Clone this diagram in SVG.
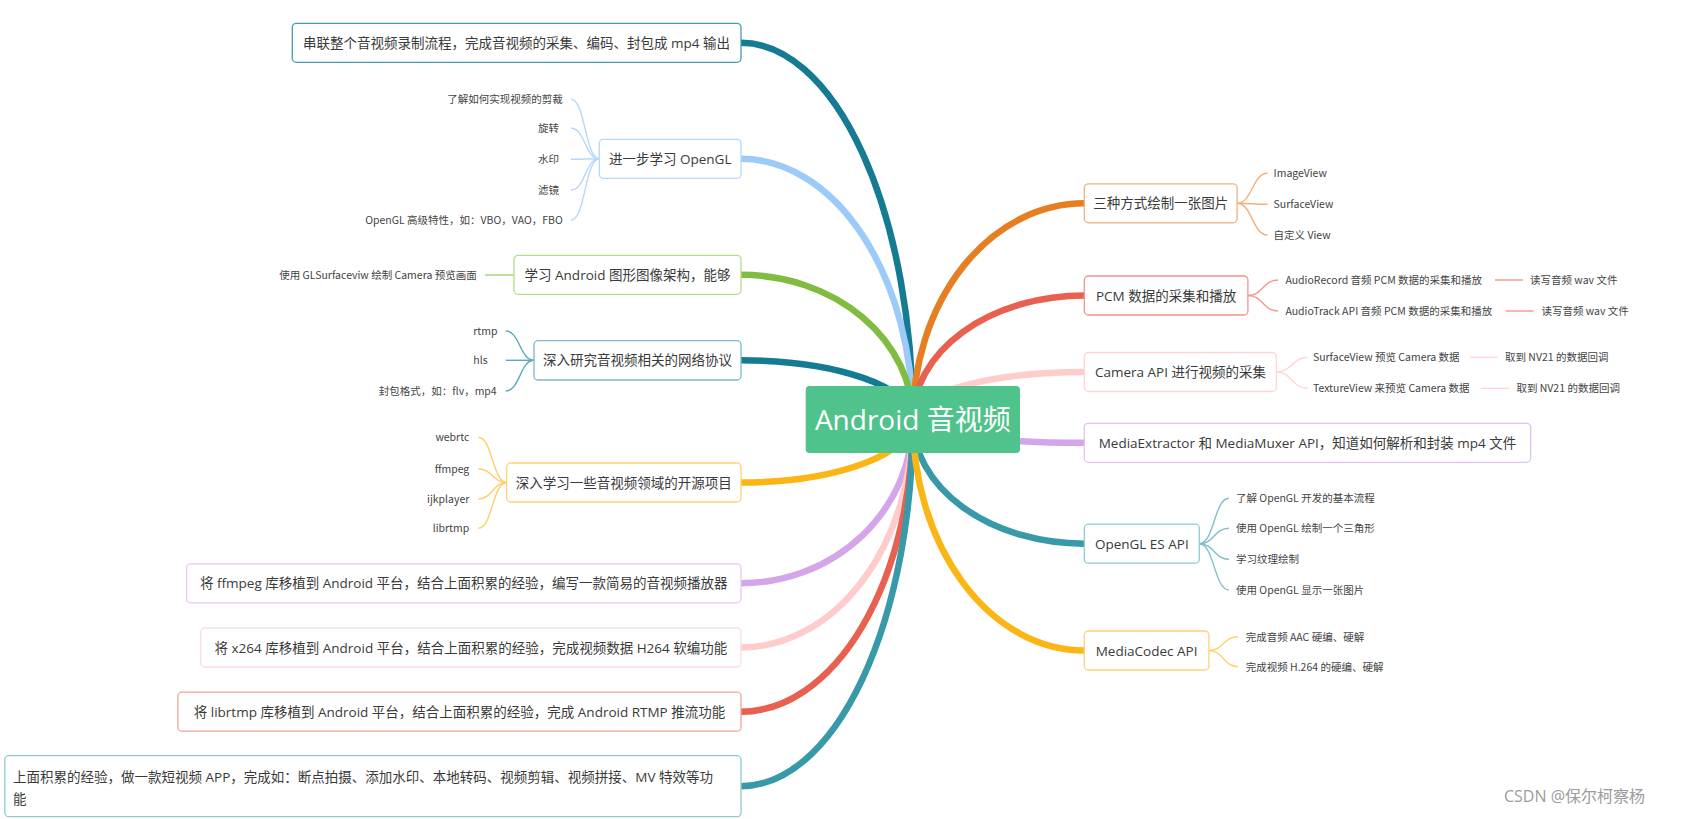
<svg xmlns="http://www.w3.org/2000/svg" width="1687" height="819" viewBox="0 0 1687 819">
<style>
.main{fill:none;stroke-width:6.5;stroke-linecap:butt}
.sub{fill:none;stroke-width:1.4}
.box{fill:#fff;stroke-width:1.3}
.bt{font-family:"Open Sans","Noto Sans CJK SC",sans-serif;font-size:13.5px;fill:#3a3a3a}
.bs{font-family:"Open Sans","Noto Sans CJK SC",sans-serif;font-size:13.5px;fill:#3a3a3a;text-anchor:middle}
.ct{font-family:"Noto Sans CJK SC",sans-serif;font-size:10.5px;fill:#444}
.ce{font-family:"Noto Sans CJK SC",sans-serif;font-size:10.5px;fill:#444;text-anchor:end}
</style>
<rect width="1687" height="819" fill="#fff"/>
<g id="connectors">
<path class="main" stroke="#157b93" d="M912.8 419.5 A171.8 376.7 0 0 0 741 42.8"/>
<path class="main" stroke="#9ccbf9" d="M912.8 419.5 A171.8 260.7 0 0 0 741 158.8"/>
<path class="main" stroke="#80bc40" d="M912.8 419.5 A171.8 144.7 0 0 0 741 274.8"/>
<path class="main" stroke="#157b93" d="M912.8 419.5 A171.8 59.2 0 0 0 741 360.3"/>
<path class="main" stroke="#fbb615" d="M912.8 419.5 A171.8 63 0 0 1 741 482.5"/>
<path class="main" stroke="#d4a6e9" d="M912.8 419.5 A171.8 163.8 0 0 1 741 583.3"/>
<path class="main" stroke="#ffcccc" d="M912.8 419.5 A171.8 228 0 0 1 741 647.5"/>
<path class="main" stroke="#e8604f" d="M912.8 419.5 A171.8 292.2 0 0 1 741 711.7"/>
<path class="main" stroke="#389aa8" d="M912.8 419.5 A171.8 366.7 0 0 1 741 786.2"/>
<path class="main" stroke="#e67e22" d="M912.8 419.5 A171.5 216.2 0 0 1 1084.3 203.3"/>
<path class="main" stroke="#e8604f" d="M912.8 419.5 A171.5 124 0 0 1 1084.3 295.5"/>
<path class="main" stroke="#ffcccc" d="M912.8 419.5 A171.5 47.5 0 0 1 1084.3 372"/>
<path class="main" stroke="#d4a6e9" d="M912.8 419.5 A171.5 23.3 0 0 0 1084.3 442.8"/>
<path class="main" stroke="#389aa8" d="M912.8 419.5 A171.5 124.2 0 0 0 1084.3 543.7"/>
<path class="main" stroke="#fbb615" d="M912.8 419.5 A171.5 231 0 0 0 1084.3 650.5"/>
<g stroke="#b7d8fb">
<path class="sub" d="M599.3 158.8 C585.2 158.8 585.2 99.3 571 99.3"/>
<path class="sub" d="M599.3 158.8 C585.2 158.8 585.2 128.3 571 128.3"/>
<path class="sub" d="M599.3 158.8 C585.2 158.8 585.2 159.3 571 159.3"/>
<path class="sub" d="M599.3 158.8 C585.2 158.8 585.2 190 571 190"/>
<path class="sub" d="M599.3 158.8 C585.2 158.8 585.2 220 571 220"/>
</g>
<path class="sub" stroke="#a3d16c" d="M514 275 L485 275"/>
<g stroke="#5fa8ba">
<path class="sub" d="M534 360.3 C519.9 360.3 519.9 331 505.7 331"/>
<path class="sub" d="M534 360.3 C519.9 360.3 519.9 360.3 505.7 360.3"/>
<path class="sub" d="M534 360.3 C519.9 360.3 519.9 391 505.7 391"/>
</g>
<g stroke="#fdd06a">
<path class="sub" d="M506.7 482.5 C492.5 482.5 492.5 437.3 478.3 437.3"/>
<path class="sub" d="M506.7 482.5 C492.5 482.5 492.5 469 478.3 469"/>
<path class="sub" d="M506.7 482.5 C492.5 482.5 492.5 499 478.3 499"/>
<path class="sub" d="M506.7 482.5 C492.5 482.5 492.5 528.3 478.3 528.3"/>
</g>
<g stroke="#f2b07b">
<path class="sub" d="M1237.1 203.3 C1252.3 203.3 1252.3 173.3 1267.5 173.3"/>
<path class="sub" d="M1237.1 203.3 C1252.3 203.3 1252.3 204.3 1267.5 204.3"/>
<path class="sub" d="M1237.1 203.3 C1252.3 203.3 1252.3 235 1267.5 235"/>
</g>
<g stroke="#f09a90">
<path class="sub" d="M1247.9 295.5 C1263 295.5 1263 280 1278.2 280"/>
<path class="sub" d="M1247.9 295.5 C1263 295.5 1263 311 1278.2 311"/>
<path class="sub" d="M1495 280 L1523 280"/>
<path class="sub" d="M1505.7 311 L1533.6 311"/>
</g>
<g stroke="#ffd6d6">
<path class="sub" d="M1276.4 372 C1292 372 1292 357.3 1307.5 357.3"/>
<path class="sub" d="M1276.4 372 C1292 372 1292 388.3 1307.5 388.3"/>
<path class="sub" d="M1470 357.3 L1497.9 357.3"/>
<path class="sub" d="M1480.7 388.3 L1509.3 388.3"/>
</g>
<g stroke="#7fc0c9">
<path class="sub" d="M1199.3 543.7 C1214.2 543.7 1214.2 498.3 1229 498.3"/>
<path class="sub" d="M1199.3 543.7 C1214.2 543.7 1214.2 528.3 1229 528.3"/>
<path class="sub" d="M1199.3 543.7 C1214.2 543.7 1214.2 559.3 1229 559.3"/>
<path class="sub" d="M1199.3 543.7 C1214.2 543.7 1214.2 590 1229 590"/>
</g>
<g stroke="#fdd06a">
<path class="sub" d="M1208.9 650.5 C1223.4 650.5 1223.4 636.7 1237.9 636.7"/>
<path class="sub" d="M1208.9 650.5 C1223.4 650.5 1223.4 666.7 1237.9 666.7"/>
</g>
</g>
<g id="root">
<rect x="805.7" y="386" width="214.3" height="67" rx="4" fill="#50c28b"/>
<text x="912.8" y="430" font-family="'Open Sans','Noto Sans CJK SC',sans-serif" font-size="28" fill="#fff" text-anchor="middle">Android 音视频</text>
</g>
<g id="n1">
<rect class="box" stroke="#4a9bb0" x="292.3" y="23.3" width="448.7" height="39" rx="4"/>
<text class="bs" x="516.6" y="47.9">串联整个音视频录制流程，完成音视频的采集、编码、封包成 mp4 输出</text>
</g>
<g id="n2">
<rect class="box" stroke="#b4d7fb" x="599.3" y="139.3" width="141.7" height="39" rx="4"/>
<text class="bs" x="670.2" y="163.9">进一步学习 OpenGL</text>
<text class="ce" x="562.7" y="103.3">了解如何实现视频的剪裁</text>
<text class="ct" x="538" y="132.3">旋转</text>
<text class="ct" x="538" y="163.3">水印</text>
<text class="ct" x="538" y="194">滤镜</text>
<text class="ce" x="562.7" y="224">OpenGL 高级特性，如：VBO，VAO，FBO</text>
</g>
<g id="n3">
<rect class="box" stroke="#b5dc8a" x="514" y="255.3" width="227" height="39" rx="4"/>
<text class="bs" x="627.5" y="279.9">学习 Android 图形图像架构，能够</text>
<text class="ce" x="476.7" y="279">使用 GLSurfaceviw 绘制 Camera 预览画面</text>
</g>
<g id="n4">
<rect class="box" stroke="#7cb8c8" x="534" y="340.7" width="207" height="39.3" rx="4"/>
<text class="bs" x="637.5" y="365.4">深入研究音视频相关的网络协议</text>
<text class="ct" x="473.3" y="335">rtmp</text>
<text class="ct" x="473.3" y="364.3">hls</text>
<text class="ce" x="496.7" y="395">封包格式，如：flv，mp4</text>
</g>
<g id="n5">
<rect class="box" stroke="#fcd27a" x="506.7" y="463" width="234.3" height="39" rx="4"/>
<text class="bs" x="623.8" y="487.6">深入学习一些音视频领域的开源项目</text>
<text class="ce" x="469.3" y="441.3">webrtc</text>
<text class="ce" x="469.3" y="473">ffmpeg</text>
<text class="ce" x="469.3" y="503">ijkplayer</text>
<text class="ce" x="469.3" y="532.3">librtmp</text>
</g>
<g id="n6">
<rect class="box" stroke="#e6c8f2" x="186.6" y="563.8" width="554.4" height="39" rx="4"/>
<text class="bs" x="463.8" y="588.4">将 ffmpeg 库移植到 Android 平台，结合上面积累的经验，编写一款简易的音视频播放器</text>
</g>
<g id="n7">
<rect class="box" stroke="#ffdcdc" x="200.8" y="628" width="540.2" height="39" rx="4"/>
<text class="bs" x="470.9" y="652.6">将 x264 库移植到 Android 平台，结合上面积累的经验，完成视频数据 H264 软编功能</text>
</g>
<g id="n8">
<rect class="box" stroke="#f2a49b" x="177.9" y="692.2" width="563.1" height="39" rx="4"/>
<text class="bs" x="459.5" y="716.8">将 librtmp 库移植到 Android 平台，结合上面积累的经验，完成 Android RTMP 推流功能</text>
</g>
<g id="n9">
<rect class="box" stroke="#8ecbd2" x="4.8" y="755.7" width="736.2" height="61" rx="4"/>
<text class="bt" x="13" y="781.8">上面积累的经验，做一款短视频 APP，完成如：断点拍摄、添加水印、本地转码、视频剪辑、视频拼接、MV 特效等功</text>
<text class="bt" x="13" y="804.4">能</text>
</g>
<g id="r1">
<rect class="box" stroke="#f0b37f" x="1084.3" y="183.8" width="152.8" height="39" rx="4"/>
<text class="bs" x="1160.7" y="208.4">三种方式绘制一张图片</text>
<text class="ct" x="1273.6" y="177.3">ImageView</text>
<text class="ct" x="1273.6" y="208.3">SurfaceView</text>
<text class="ct" x="1273.6" y="239">自定义 View</text>
</g>
<g id="r2">
<rect class="box" stroke="#ef958b" x="1084.3" y="276" width="163.6" height="39" rx="4"/>
<text class="bs" x="1166.1" y="300.6">PCM 数据的采集和播放</text>
<text class="ct" x="1285.4" y="284">AudioRecord 音频 PCM 数据的采集和播放</text>
<text class="ct" x="1530" y="284">读写音频 wav 文件</text>
<text class="ct" x="1285.4" y="315">AudioTrack API 音频 PCM 数据的采集和播放</text>
<text class="ct" x="1541.4" y="315">读写音频 wav 文件</text>
</g>
<g id="r3">
<rect class="box" stroke="#ffd6d6" x="1084.3" y="352.5" width="192.1" height="39" rx="4"/>
<text class="bs" x="1180.4" y="377.1">Camera API 进行视频的采集</text>
<text class="ct" x="1312.9" y="361.3">SurfaceView 预览 Camera 数据</text>
<text class="ct" x="1505" y="361.3">取到 NV21 的数据回调</text>
<text class="ct" x="1312.9" y="392.3">TextureView 来预览 Camera 数据</text>
<text class="ct" x="1516.4" y="392.3">取到 NV21 的数据回调</text>
</g>
<g id="r4">
<rect class="box" stroke="#e2c2f0" x="1084.3" y="423.3" width="446.4" height="39" rx="4"/>
<text class="bs" x="1307.5" y="447.9">MediaExtractor 和 MediaMuxer API，知道如何解析和封装 mp4 文件</text>
</g>
<g id="r5">
<rect class="box" stroke="#8ecbd2" x="1084.3" y="524.2" width="115" height="39" rx="4"/>
<text class="bs" x="1141.8" y="548.8">OpenGL ES API</text>
<text class="ct" x="1236" y="502.3">了解 OpenGL 开发的基本流程</text>
<text class="ct" x="1236" y="532.3">使用 OpenGL 绘制一个三角形</text>
<text class="ct" x="1236" y="563.3">学习纹理绘制</text>
<text class="ct" x="1236" y="594">使用 OpenGL 显示一张图片</text>
</g>
<g id="r6">
<rect class="box" stroke="#fcd27a" x="1084.3" y="631" width="124.6" height="39" rx="4"/>
<text class="bs" x="1146.6" y="655.6">MediaCodec API</text>
<text class="ct" x="1245.7" y="640.7">完成音频 AAC 硬编、硬解</text>
<text class="ct" x="1245.7" y="670.7">完成视频 H.264 的硬编、硬解</text>
</g>
<text x="1504" y="802" font-family="'Open Sans','Noto Sans CJK SC',sans-serif" font-size="16" fill="#9c9c9c">CSDN @保尔柯察杨</text>
</svg>
